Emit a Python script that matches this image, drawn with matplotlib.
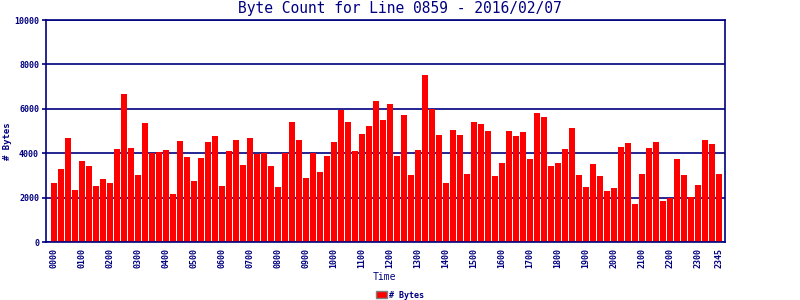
import matplotlib.pyplot as plt
from matplotlib.patches import Patch

# byte counts per 15-minute slot
byte_counts = [
    2667, 3296, 4689, 2352, 3655, 3431, 2532, 2846,
    2667, 4195, 6667, 4240, 3026, 5363, 4000, 4060,
    4150, 2172, 4554, 3835, 2757, 3790, 4509, 4779,
    2532, 4105, 4599, 3476, 4689, 3985, 4000, 3431,
    2487, 4000, 5408, 4599, 2891, 4000, 3161, 3880,
    4509, 5963, 5408, 4105, 4869, 5228, 6352, 5498,
    6217, 3880, 5723, 3026, 4150, 7521, 5993, 4824,
    2667, 5049, 4824, 3071, 5408, 5318, 5004, 2981,
    3566, 5004, 4779, 4959, 3745, 5813, 5633, 3431,
    3566, 4195, 5139, 3026, 2487, 3521, 2981, 2307,
    2442, 4285, 4464, 1723, 3071, 4240, 4509, 1858,
    1993, 3745, 3026, 2037, 2577, 4599, 4419, 3071,
]
times = ["%02d%02d" % (i // 4, (i % 4) * 15) for i in range(96)]
tick_idx = list(range(0, 96, 4)) + [95]
y_ticks = [0, 2000, 4000, 6000, 8000, 10000]

navy = "#000080"
mono = "DejaVu Sans Mono"

fig = plt.figure(figsize=(8, 3), dpi=100)
ax = fig.add_axes([46 / 800, 58 / 300, 679 / 800, 222 / 300])

x = list(range(len(byte_counts)))
ax.bar(x, byte_counts, width=0.86, color="#ff0000", zorder=3)

ax.set_xlim(-1.14, 95.86)
ax.set_ylim(0, 10000)
ax.set_yticks(y_ticks)
ax.set_yticklabels([str(v) for v in y_ticks], fontsize=6, fontweight="bold",
                   family=mono, color=navy)
ax.set_xticks(tick_idx)
ax.set_xticklabels([times[i] for i in tick_idx], rotation=90, fontsize=6,
                   fontweight="bold", family=mono, color=navy)
ax.tick_params(axis="y", length=3, width=1.2, color=navy, pad=2)
ax.tick_params(axis="x", length=0, pad=4)
ax.grid(axis="y", color=navy, linewidth=1.2, zorder=1)
for s in ax.spines.values():
    s.set_color(navy)
    s.set_linewidth(1.2)
    s.set_zorder(4)

fig.text(400 / 800, 1 - 9 / 300, "Byte Count for Line 0859 - 2016/02/07",
         ha="center", va="center", fontsize=10.5, family=mono, color=navy)
fig.text(384 / 800, 1 - 277 / 300, "Time", ha="center", va="center",
         fontsize=7, family=mono, color=navy)
fig.text(8 / 800, 1 - 141 / 300, "# Bytes", ha="center", va="center",
         rotation=90, fontsize=6.5, fontweight="bold", family=mono, color=navy)

handle = Patch(facecolor="#ff0000", edgecolor="#808080", linewidth=1)
leg = fig.legend([handle], ["# Bytes"], loc="center", bbox_to_anchor=(400 / 800, 5 / 300),
                 frameon=False, handlelength=1.3, handleheight=0.8, handletextpad=0.3,
                 prop={"family": mono, "size": 6, "weight": "bold"})
for t in leg.get_texts():
    t.set_color(navy)

fig.savefig("out.png", dpi=100)
